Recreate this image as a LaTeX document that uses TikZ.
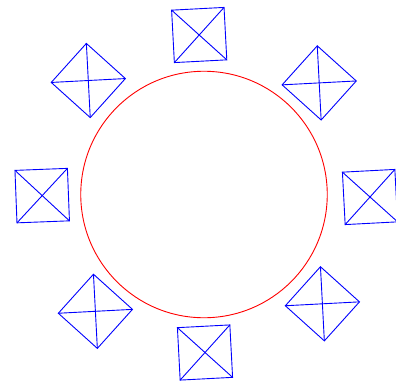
\documentclass[tikz,border=0pt]{standalone}
\begin{document}
\begin{tikzpicture}[x=1pt,y=-1pt,
  sqbox/.style={draw=blue, line width=0.9pt, minimum size=52.5pt, inner sep=0pt, outer sep=0pt, shape=rectangle},
  xline/.style={draw=blue, line width=0.9pt}]
\useasboundingbox (0,0) rectangle (396,384);
\node[draw=red, line width=0.9pt, circle, minimum size=246.5pt, inner sep=0pt, outer sep=0pt] (c) at (204,194.5) {};
\foreach \n/\x/\y/\r in {t/199.2/35/3, tr/319.2/82.9/48, r/370/197/3, br/322.4/303.8/48, b/205/352.5/3, bl/95.4/311.3/48, l/42.2/195.6/2.2, tl/88.3/80.5/48}{
  \node[sqbox, rotate=\r] (s\n) at (\x,\y) {};
  \draw[xline] (s\n.north west) -- (s\n.south east);
  \draw[xline] (s\n.north east) -- (s\n.south west);
}
\end{tikzpicture}
\end{document}
